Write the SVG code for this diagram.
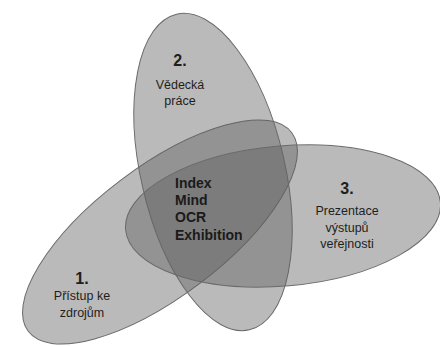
<svg xmlns="http://www.w3.org/2000/svg" width="440" height="347" viewBox="0 0 440 347">
<style>
.e{fill:#5e5e5e;fill-opacity:0.43;stroke:#6a6a6a;stroke-width:1}
.t{font-family:"Liberation Sans",Arial,sans-serif;fill:#1e1e1e;text-anchor:middle}
.n{font-size:16px;font-weight:bold}
.l{font-size:12.5px}
.c{font-family:"Liberation Sans",Arial,sans-serif;fill:#1a1a1a;font-size:14px;font-weight:bold}
</style>
<rect width="440" height="347" fill="#ffffff"/>
<g id="connectors"></g>
<g id="node1">
<ellipse class="e" cx="160" cy="232" rx="165" ry="65" transform="rotate(-37 160 232)"/>
</g>
<g id="node2">
<ellipse class="e" cx="213" cy="172" rx="72" ry="162" transform="rotate(-13 213 172)"/>
</g>
<g id="node3">
<ellipse class="e" cx="283" cy="216" rx="158" ry="70" transform="rotate(-5 283 216)"/>
</g>
<g id="label1">
<text class="t n" x="82" y="284">1.</text>
<text class="t l" x="82" y="300">Přístup ke</text>
<text class="t l" x="82" y="317">zdrojům</text>
</g>
<g id="label2">
<text class="t n" x="180" y="66">2.</text>
<text class="t l" x="180" y="89">Vědecká</text>
<text class="t l" x="180" y="105">práce</text>
</g>
<g id="label3">
<text class="t n" x="347" y="194">3.</text>
<text class="t l" x="347" y="215">Prezentace</text>
<text class="t l" x="347" y="232">výstupů</text>
<text class="t l" x="347" y="248">veřejnosti</text>
</g>
<g id="center">
<text class="c" x="175" y="188">Index</text>
<text class="c" x="175" y="205">Mind</text>
<text class="c" x="175" y="222">OCR</text>
<text class="c" x="175" y="240">Exhibition</text>
</g>
</svg>
